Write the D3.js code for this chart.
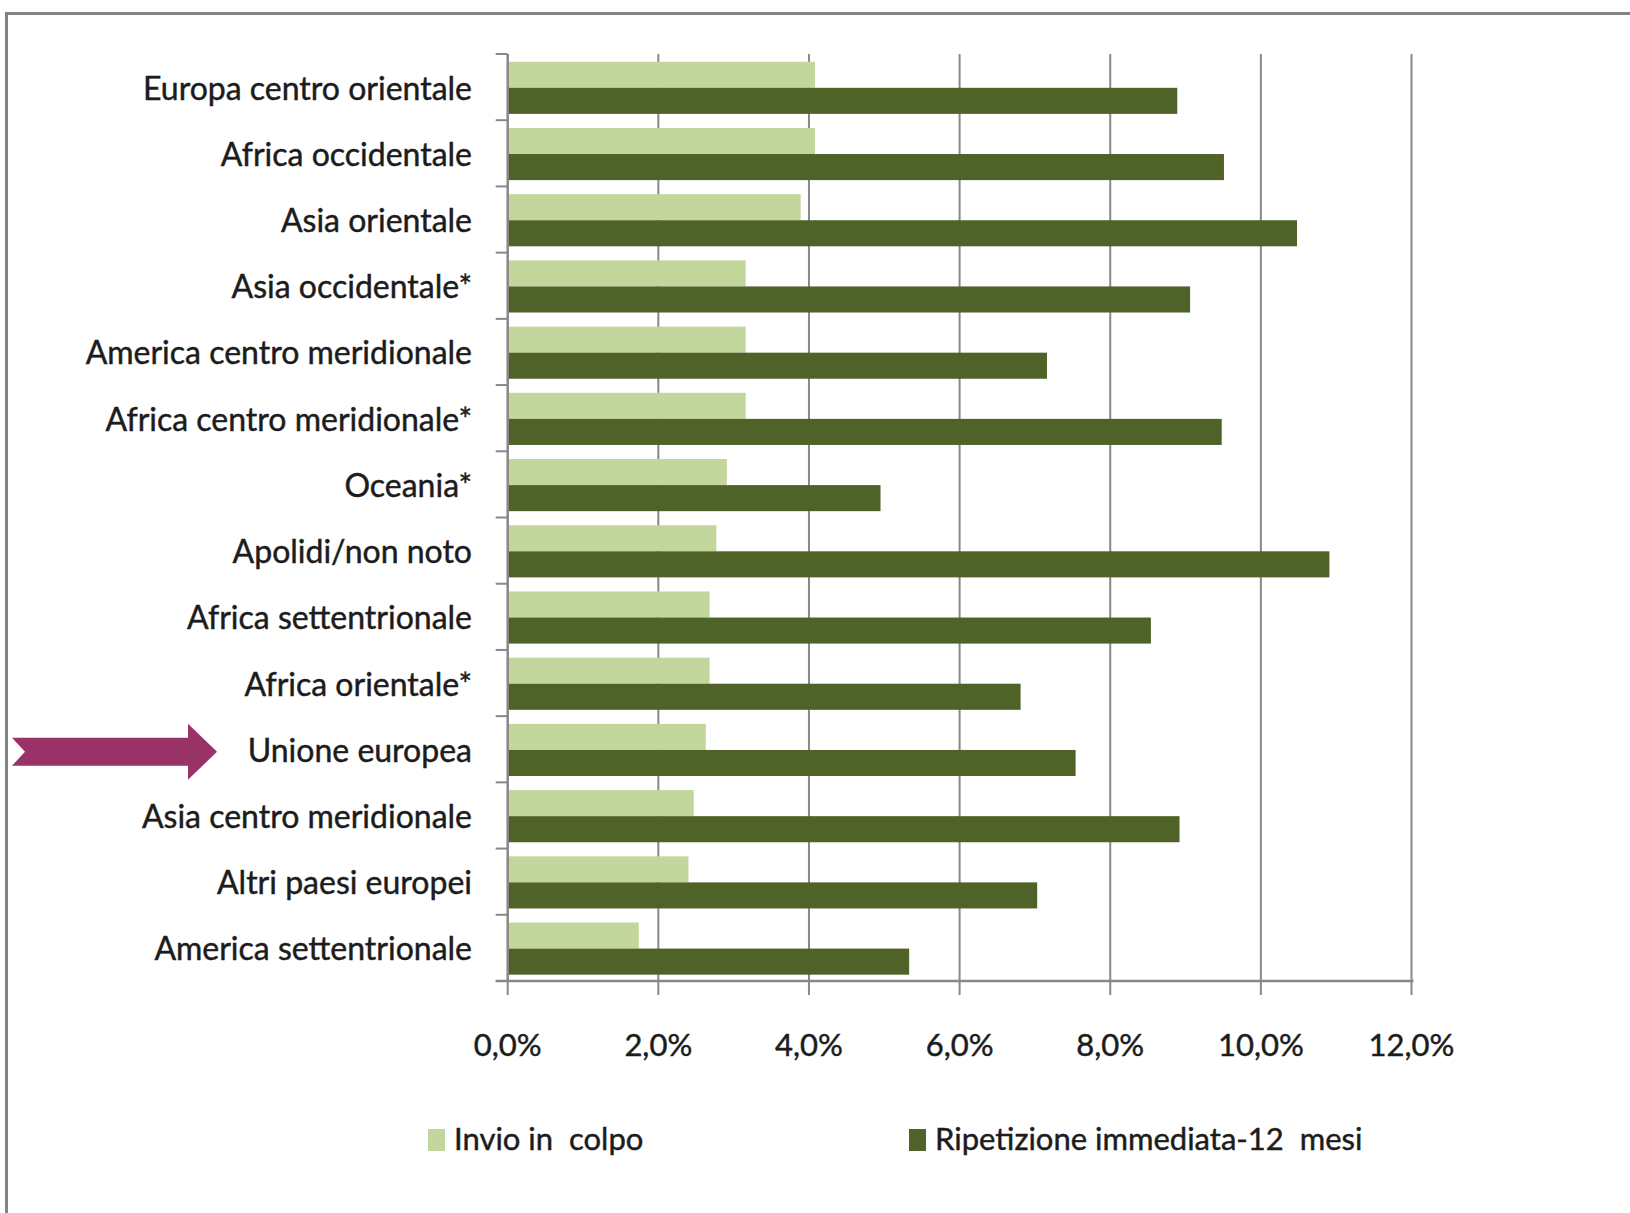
<!DOCTYPE html>
<html>
<head>
<meta charset="utf-8">
<script src="https://cdn.jsdelivr.net/npm/d3@7"></script>
<style>
  html, body { margin: 0; padding: 0; background: #ffffff; }
  svg { display: block; }
  text { font-family: Lato, "Open Sans", sans-serif; fill: #1c1c1c; stroke: #1c1c1c; stroke-width: 0.45px; }
</style>
</head>
<body>
<svg id="chart" width="1630" height="1213"></svg>
<script>
// ---- data ----
const categories = [
  "Europa centro orientale",
  "Africa occidentale",
  "Asia orientale",
  "Asia occidentale*",
  "America centro meridionale",
  "Africa centro meridionale*",
  "Oceania*",
  "Apolidi/non noto",
  "Africa settentrionale",
  "Africa orientale*",
  "Unione europea",
  "Asia centro meridionale",
  "Altri paesi europei",
  "America settentrionale"
];
const seriesNames = ["Invio in  colpo", "Ripetizione immediata-12  mesi"];
const invioInColpo = [4.08, 4.08, 3.89, 3.16, 3.16, 3.16, 2.91, 2.77, 2.68, 2.68, 2.63, 2.47, 2.40, 1.74];
const ripetizione12Mesi = [8.89, 9.51, 10.48, 9.06, 7.16, 9.48, 4.95, 10.91, 8.54, 6.81, 7.54, 8.92, 7.03, 5.33];
const xTicks = [0, 2, 4, 6, 8, 10, 12];
const highlighted = "Unione europea";
const seriesColors = ["#c3d69b", "#4f6228"];

// ---- layout ----
const svg = d3.select("#chart");
const W = 1630, H = 1213;
const plot = { left: 507.7, right: 1411.5, top: 54, bottom: 981 };
const gridColor = "#888888";

svg.append("rect").attr("width", W).attr("height", H).attr("fill", "#ffffff");

// outer frame (only top and left visible)
svg.append("path")
  .attr("d", `M6.5,${H} L6.5,13.5 L${W},13.5`)
  .attr("fill", "none").attr("stroke", "#838383").attr("stroke-width", 3);

const fmt = d3.formatLocale({ decimal: ",", thousands: ".", grouping: [3], currency: ["", "€"] }).format(".1f");

const x = d3.scaleLinear().domain([0, 12]).range([plot.left, plot.right]);
const y = d3.scaleBand().domain(categories).range([plot.top, plot.bottom]).padding(0);
const ySub = d3.scaleBand().domain(seriesNames).range([0, y.bandwidth()])
  .paddingInner(0).paddingOuter(0.27).align(0.55);

// gridlines
svg.append("g").selectAll("line").data(xTicks.filter(t => t > 0)).join("line")
  .attr("x1", d => x(d)).attr("x2", d => x(d))
  .attr("y1", plot.top).attr("y2", plot.bottom)
  .attr("stroke", gridColor).attr("stroke-width", 2);

// bars
const rows = categories.map((c, i) => ({ cat: c, vals: [invioInColpo[i], ripetizione12Mesi[i]] }));
const gRows = svg.append("g").selectAll("g").data(rows).join("g")
  .attr("transform", d => `translate(0,${y(d.cat)})`);
gRows.selectAll("rect").data(d => d.vals.map((v, k) => ({ s: seriesNames[k], v, k }))).join("rect")
  .attr("x", x(0))
  .attr("y", d => ySub(d.s))
  .attr("width", d => x(d.v) - x(0))
  .attr("height", ySub.bandwidth())
  .attr("fill", d => seriesColors[d.k]);

// y axis line + category ticks
const boundaries = categories.map(c => y(c)).concat([plot.bottom]);
svg.append("line")
  .attr("x1", x(0)).attr("x2", x(0)).attr("y1", plot.top).attr("y2", plot.bottom)
  .attr("stroke", gridColor).attr("stroke-width", 2.5);
svg.append("g").selectAll("line").data(boundaries).join("line")
  .attr("x1", x(0) - 12).attr("x2", x(0))
  .attr("y1", d => d).attr("y2", d => d)
  .attr("stroke", gridColor).attr("stroke-width", 2);

// x axis line + ticks
svg.append("line")
  .attr("x1", x(0) - 12).attr("x2", plot.right + 2).attr("y1", plot.bottom).attr("y2", plot.bottom)
  .attr("stroke", gridColor).attr("stroke-width", 2.5);
svg.append("g").selectAll("line").data(xTicks).join("line")
  .attr("x1", d => x(d)).attr("x2", d => x(d))
  .attr("y1", plot.bottom).attr("y2", plot.bottom + 14)
  .attr("stroke", gridColor).attr("stroke-width", 2);

// x tick labels
svg.append("g").selectAll("text").data(xTicks).join("text")
  .attr("x", d => x(d)).attr("y", 1056)
  .attr("text-anchor", "middle")
  .attr("font-size", 31)
  .text(d => fmt(d) + "%");

// category labels
svg.append("g").selectAll("text").data(categories).join("text")
  .attr("x", 472)
  .attr("y", d => y(d) + y.bandwidth() / 2 + 12.5)
  .attr("text-anchor", "end")
  .attr("font-size", 32)
  .text(d => d);

// highlight arrow pointing at "Unione europea"
const cy = y(highlighted) + y.bandwidth() / 2 + 2.5;
const arrowPts = [[25, 0], [12, -14], [188, -14], [188, -28], [217, 0], [188, 28], [188, 14], [12, 14]];
svg.append("path")
  .attr("d", d3.line()(arrowPts.map(p => [p[0], cy + p[1]])) + "Z")
  .attr("fill", "#993366");

// legend
const legendX = [428, 909];
const legend = svg.append("g").selectAll("g").data(seriesNames).join("g")
  .attr("transform", (d, i) => `translate(${legendX[i]},0)`);
legend.append("rect")
  .attr("x", 0).attr("y", 1129).attr("width", 17).attr("height", 22)
  .attr("fill", (d, i) => seriesColors[i]);
legend.append("text")
  .attr("x", 26).attr("y", 1150)
  .attr("font-size", 31)
  .style("white-space", "pre")
  .text(d => d);
</script>
</body>
</html>
